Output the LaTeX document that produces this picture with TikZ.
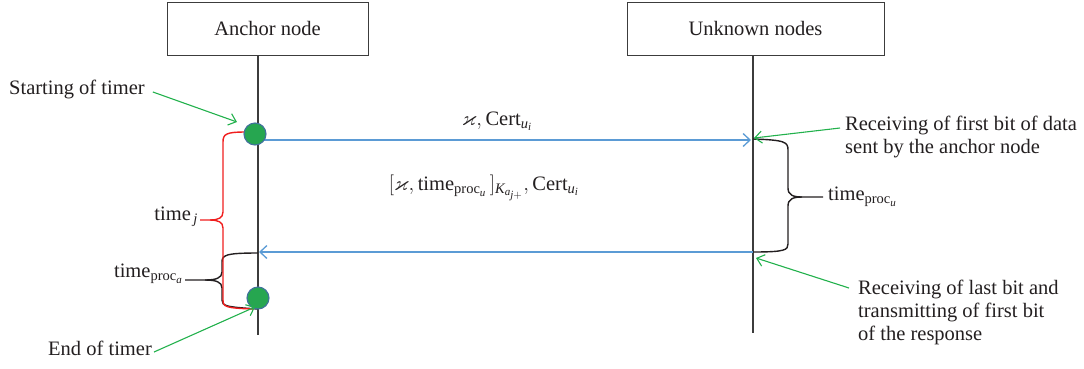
\documentclass[tikz,border=0pt]{standalone}
\usepackage{amsmath,amssymb}
\usepackage{fontspec}
\setmainfont{Liberation Serif}
\usetikzlibrary{arrows.meta}
\DeclareMathSizes{20.5}{20.5}{14.5}{11}

\definecolor{msgblue}{RGB}{91,155,213}
\definecolor{notegreen}{RGB}{34,177,76}
\definecolor{dotgreen}{RGB}{38,166,80}
\definecolor{dotrim}{RGB}{65,113,156}
\definecolor{linegray}{RGB}{60,60,60}
\definecolor{bracered}{RGB}{240,30,30}
\definecolor{inkgray}{RGB}{35,31,32}

% italic letters taken from the text font inside formulas
\newcommand{\itx}[1]{\text{\itshape #1}}

\tikzset{
  actorbox/.style={draw=linegray, line width=1pt, inner sep=0pt},
  lifeline/.style={draw=linegray, line width=1.3pt},
  msg/.style={draw=msgblue, line width=1.3pt, -{Straight Barb[length=7pt,width=13pt]}},
  note/.style={draw=notegreen, line width=1.1pt, -{Straight Barb[length=7pt,width=12pt]}},
  blackbrace/.style={draw=inkgray, line width=1.4pt},
  redbrace/.style={draw=bracered, line width=1.4pt},
  timerdot/.style={circle, minimum size=22pt, inner sep=0pt, fill=dotgreen, draw=dotrim, line width=1.1pt},
  lbl/.style={inner sep=0pt, text=inkgray}
}

\begin{document}
\begin{tikzpicture}[x=1pt, y=-1pt, font=\fontsize{20.5}{23}\selectfont]
\useasboundingbox (0,0) rectangle (1084,368);

% participants
\node[actorbox, minimum width=201pt, minimum height=53pt, text=inkgray] (anchorbox) at (267.5,28.5) {Anchor node};
\node[actorbox, minimum width=257pt, minimum height=53pt, text=inkgray] (unkbox) at (755.5,28.5) {Unknown nodes};

% lifelines
\coordinate (aEnd) at (258,335);
\coordinate (uEnd) at (753,333);
\draw[lifeline] (anchorbox.south -| aEnd) -- (aEnd);
\draw[lifeline] (unkbox.south -| uEnd) -- (uEnd);

% messages
\coordinate (m1s) at (258,140);
\coordinate (m1e) at (751,140);
\coordinate (m2s) at (753,252);
\coordinate (m2e) at (259,252);
\draw[msg] (m1s) -- (m1e);
\draw[msg] (m2s) -- (m2e);
\node[lbl, anchor=base] (m1lbl) at (497,125) {$\varkappa, \text{Cert}_{\itx{u}_{\itx{i}}}$};
\node[lbl, anchor=base] (m2lbl) at (484,190) {$[\varkappa, \text{time}_{\text{proc}_{\itx{u}}}\,]_{\itx{K}_{\itx{a}_{\itx{j}+}}}, \text{Cert}_{\itx{u}_{\itx{i}}}$};

% processing time at the unknown node
\draw[blackbrace] (753,139) .. controls (785,140) and (788,142) .. (788,150) -- (788,188)
  .. controls (788,195) and (793,197) .. (802,197) -- (823,197);
\draw[blackbrace] (802,197) .. controls (793,197) and (788,199) .. (788,206) -- (788,244)
  .. controls (788,250) and (785,252) .. (753,252);
\node[lbl, anchor=base west] (tpu) at (828,200) {time$_{\text{proc}_{\itx{u}}}$};

% processing time at the anchor node
\draw[blackbrace] (258,253) .. controls (226,253) and (222,255) .. (222,262) -- (222,272)
  .. controls (222,278) and (216,280) .. (205,280) -- (185,280);
\draw[blackbrace] (205,280) .. controls (216,280) and (222,282) .. (222,288) -- (222,300)
  .. controls (222,306) and (226,307) .. (258,309);
\node[lbl, anchor=base east] (tpa) at (183,277) {time$_{\text{proc}_{\itx{a}}}$};

% timer span
\draw[redbrace] (246,132) .. controls (226,132) and (223,134) .. (223,142) -- (223,212)
  .. controls (223,218) and (218,220) .. (210,220) -- (200,220);
\draw[redbrace] (210,220) .. controls (218,220) and (223,222) .. (223,228) -- (223,300)
  .. controls (223,307) and (226,308) .. (253,309);
\node[lbl, anchor=base east] (tj) at (198,220) {time$_{\,\itx{j}}$};

% timer events
\node[timerdot] (startdot) at (255,134) {};
\node[timerdot] (enddot) at (258,298) {};

% annotations
\node[lbl, anchor=base west] (startlbl) at (9,94) {Starting of timer};
\coordinate (startpt) at (237,122);
\draw[note] ([xshift=8pt,yshift=2pt]startlbl.base east) -- (startpt);

\node[lbl, anchor=base west] (endlbl) at (48,355) {End of timer};
\coordinate (endpt) at (255,307);
\draw[note] ([xshift=2pt,yshift=3pt]endlbl.base east) -- (endpt);

% base of a multi-line node sits on its last line
\node[lbl, anchor=base west, align=left] (firstlbl) at (845,153) {Receiving of first bit of data\\sent by the anchor node};
\coordinate (firstpt) at (754,138);
\coordinate (firsts) at (840,128);
\draw[note] (firsts) -- (firstpt);

\node[lbl, anchor=base west, align=left] (lastlbl) at (858,340) {Receiving of last bit and\\transmitting of first bit\\of the response};
\coordinate (lastpt) at (756,258);
\coordinate (lasts) at (849,288);
\draw[note] (lasts) -- (lastpt);
\end{tikzpicture}
\end{document}
